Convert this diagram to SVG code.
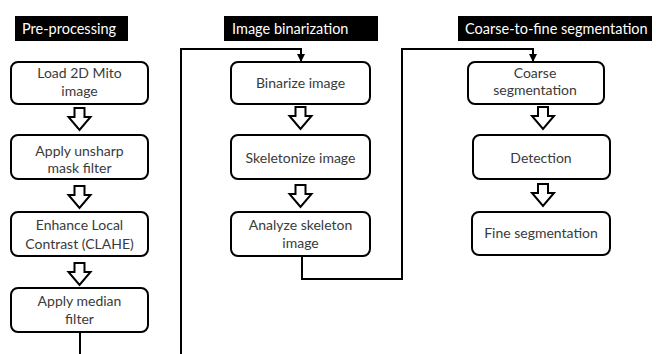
<svg xmlns="http://www.w3.org/2000/svg" xmlns:xlink="http://www.w3.org/1999/xlink" width="656" height="354" viewBox="0 0 656 354">
  <style>
    .box { fill: #ffffff; stroke: #000000; stroke-width: 2; }
    .hdr { fill: #000000; }
    .hdr-t { fill: #ffffff; font-family: Lato, "Liberation Sans", sans-serif; font-size: 14.5px; }
    .t { fill: #3a3a3a; font-family: Lato, "Liberation Sans", sans-serif; font-size: 14px; text-anchor: middle; }
    .step { fill: #ffffff; stroke: #000000; stroke-width: 2; stroke-linejoin: miter; }
    .wire { fill: none; stroke: #000000; stroke-width: 2; }
  </style>
  <defs>
    <!-- hollow block arrow between consecutive steps -->
    <path id="down" class="step" d="M-5,0 H5 V9 H11 L0,22 L-11,9 H-5 Z"/>
    <marker id="tip" viewBox="0 0 8 8" refX="7" refY="4" markerWidth="4" markerHeight="4" orient="auto" markerUnits="strokeWidth">
      <path d="M0,0 L8,4 L0,8 Z" fill="#000000"/>
    </marker>
  </defs>
  <rect width="656" height="354" fill="#ffffff"/>

  <!-- section headers -->
  <g id="hdr-pre">
    <rect class="hdr" x="15" y="16" width="113" height="25"/>
    <text class="hdr-t" x="22" y="33.5">Pre-processing</text>
  </g>
  <g id="hdr-bin">
    <rect class="hdr" x="224" y="16" width="154" height="25"/>
    <text class="hdr-t" x="232" y="33.5">Image binarization</text>
  </g>
  <g id="hdr-seg">
    <rect class="hdr" x="458" y="16" width="194" height="25"/>
    <text class="hdr-t" x="465" y="33.5">Coarse-to-fine segmentation</text>
  </g>

  <!-- connectors -->
  <g id="connectors">
    <path class="wire" d="M80,332 V354"/>
    <path class="wire" d="M181,354 V49 H301 V61" marker-end="url(#tip)"/>
    <path class="wire" d="M302,256 V279 H402 V49 H533 V61" marker-end="url(#tip)"/>
    <use xlink:href="#down" x="79.5" y="108"/>
    <use xlink:href="#down" x="79.5" y="186"/>
    <use xlink:href="#down" x="79.5" y="263"/>
    <use xlink:href="#down" x="300.5" y="107"/>
    <use xlink:href="#down" x="300.5" y="185"/>
    <use xlink:href="#down" x="543" y="107"/>
    <use xlink:href="#down" x="543" y="184"/>
  </g>

  <!-- pre-processing column -->
  <g id="load">
    <rect class="box" x="11" y="62" width="137" height="42" rx="7"/>
    <text class="t" x="79.5" y="78">Load 2D Mito</text>
    <text class="t" x="79.5" y="96">image</text>
  </g>
  <g id="unsharp">
    <rect class="box" x="11" y="135" width="137" height="44" rx="7"/>
    <text class="t" x="79.5" y="156">Apply unsharp</text>
    <text class="t" x="79.5" y="173">mask filter</text>
  </g>
  <g id="clahe">
    <rect class="box" x="11" y="212" width="137" height="44" rx="7"/>
    <text class="t" x="79.5" y="230">Enhance Local</text>
    <text class="t" x="79.5" y="249">Contrast (CLAHE)</text>
  </g>
  <g id="median">
    <rect class="box" x="11" y="288" width="137" height="44" rx="7"/>
    <text class="t" x="79.5" y="306">Apply median</text>
    <text class="t" x="79.5" y="324">filter</text>
  </g>

  <!-- binarization column -->
  <g id="binarize">
    <rect class="box" x="231" y="62" width="139" height="42" rx="7"/>
    <text class="t" x="300.5" y="88">Binarize image</text>
  </g>
  <g id="skeletonize">
    <rect class="box" x="231" y="135" width="139" height="44" rx="7"/>
    <text class="t" x="300.5" y="163">Skeletonize image</text>
  </g>
  <g id="analyze">
    <rect class="box" x="231" y="212" width="139" height="44" rx="7"/>
    <text class="t" x="300.5" y="230">Analyze skeleton</text>
    <text class="t" x="300.5" y="248">image</text>
  </g>

  <!-- segmentation column -->
  <g id="coarse">
    <rect class="box" x="468" y="62" width="136" height="42" rx="7"/>
    <text class="t" x="535" y="78">Coarse</text>
    <text class="t" x="535" y="95">segmentation</text>
  </g>
  <g id="detection">
    <rect class="box" x="473" y="135" width="137" height="44" rx="7"/>
    <text class="t" x="541" y="163">Detection</text>
  </g>
  <g id="fine">
    <rect class="box" x="472" y="212" width="138" height="43" rx="7"/>
    <text class="t" x="541" y="238">Fine segmentation</text>
  </g>
</svg>
